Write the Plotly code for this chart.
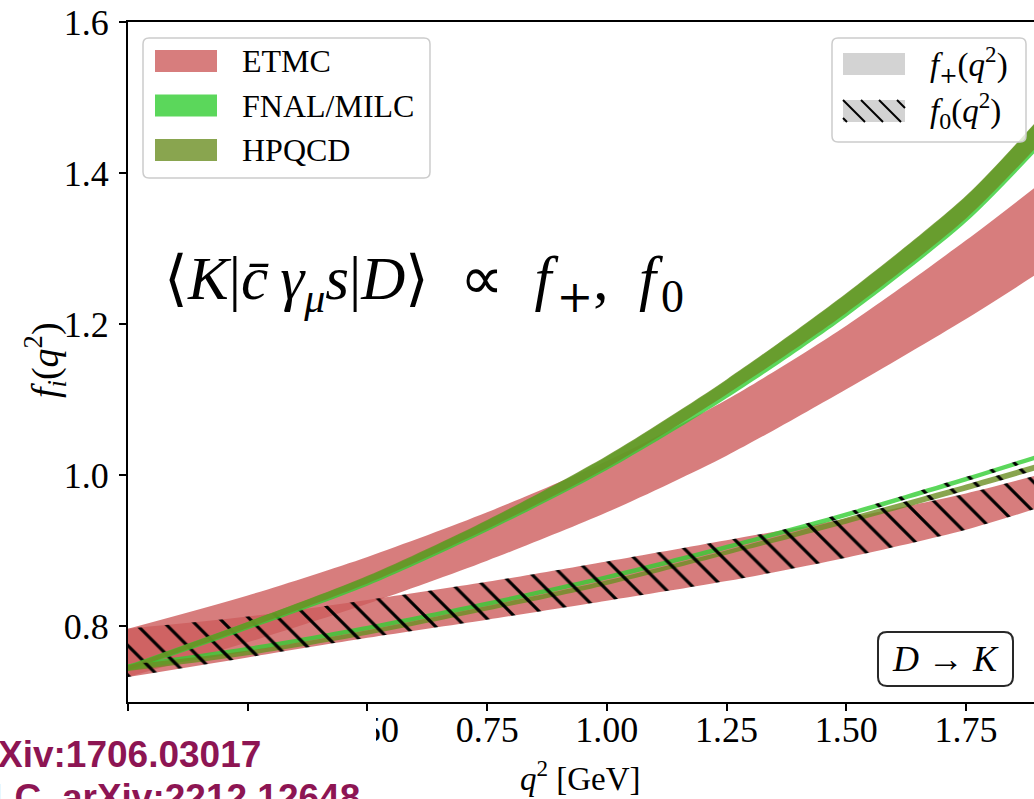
import plotly.graph_objects as go

# ---- data: form factors vs q^2 (band centres and half-widths) ----
q2 = [0.0, 0.25, 0.5, 0.75, 1.0, 1.25, 1.5, 1.75, 1.892]

etmc_fp = [0.765, 0.810, 0.861, 0.919, 0.985, 1.063, 1.156, 1.259, 1.322]
etmc_fp_err = [0.032, 0.031, 0.031, 0.032, 0.034, 0.037, 0.042, 0.052, 0.058]
etmc_f0 = [0.765, 0.786, 0.810, 0.834, 0.860, 0.887, 0.917, 0.952, 0.977]
etmc_f0_err = [0.032, 0.027, 0.025, 0.025, 0.026, 0.027, 0.026, 0.024, 0.022]

fnal_fp = [0.745, 0.801, 0.860, 0.933, 1.016, 1.114, 1.225, 1.352, 1.445]
fnal_fp_err = [0.004, 0.005, 0.006, 0.007, 0.009, 0.012, 0.015, 0.017, 0.019]
fnal_f0 = [0.746, 0.770, 0.798, 0.830, 0.865, 0.905, 0.948, 0.995, 1.023]
fnal_f0_err = [0.004, 0.003, 0.003, 0.003, 0.003, 0.003, 0.003, 0.003, 0.003]

hpqcd_fp = [0.745, 0.802, 0.862, 0.935, 1.018, 1.117, 1.228, 1.355, 1.448]
hpqcd_fp_err = [0.003, 0.004, 0.005, 0.006, 0.008, 0.010, 0.013, 0.015, 0.017]
hpqcd_f0 = [0.745, 0.765, 0.792, 0.824, 0.858, 0.898, 0.940, 0.984, 1.010]
hpqcd_f0_err = [0.004, 0.003, 0.003, 0.003, 0.003, 0.003, 0.004, 0.004, 0.004]

x_ticks = [0.0, 0.25, 0.5, 0.75, 1.0, 1.25, 1.5, 1.75]
y_ticks = [0.8, 1.0, 1.2, 1.4, 1.6]
x_range = [0.0, 1.892]
y_range = [0.7, 1.6]

collabs = ["ETMC", "FNAL/MILC", "HPQCD"]
colors = {
    "ETMC": "rgba(205,92,92,0.8)",
    "FNAL/MILC": "rgba(50,205,50,0.8)",
    "HPQCD": "rgba(107,142,35,0.8)",
}

SERIF = "Liberation Serif"
W, H = 1034, 799
ML, MR, MT, MB = 128, 0, 22, 97
PW, PH = W - ML - MR, H - MT - MB


def fx(px):
    return (px - ML) / PW


def fy(py):
    return (H - MB - py) / PH


fig = go.Figure()


def add_band(centre, err, color, hatched):
    lo = [c - e for c, e in zip(centre, err)]
    hi = [c + e for c, e in zip(centre, err)]
    fig.add_trace(go.Scatter(x=q2, y=lo, mode="lines",
                             line=dict(width=0, shape="spline", smoothing=0.8),
                             hoverinfo="skip", showlegend=False))
    kw = dict(fill="tonexty", fillcolor=color)
    if hatched:
        kw["fillpattern"] = dict(shape="\\", bgcolor=color, fgcolor="black",
                                 fgopacity=1.0, size=21, solidity=0.15)
    fig.add_trace(go.Scatter(x=q2, y=hi, mode="lines",
                             line=dict(width=0, shape="spline", smoothing=0.8),
                             hoverinfo="skip", showlegend=False, **kw))


bands = {
    "ETMC": (etmc_fp, etmc_fp_err, etmc_f0, etmc_f0_err),
    "FNAL/MILC": (fnal_fp, fnal_fp_err, fnal_f0, fnal_f0_err),
    "HPQCD": (hpqcd_fp, hpqcd_fp_err, hpqcd_f0, hpqcd_f0_err),
}
for name in collabs:
    fp, fpe, f0, f0e = bands[name]
    add_band(fp, fpe, colors[name], False)
    add_band(f0, f0e, colors[name], True)

axis_font = dict(family=SERIF, size=36, color="black")
fig.update_xaxes(range=x_range, tickvals=x_ticks, tickformat=".2f",
                 showline=True, linecolor="black", linewidth=2, mirror=True,
                 ticks="outside", ticklen=7, tickwidth=1.5, tickcolor="black",
                 ticklabelstandoff=-12, showgrid=False, zeroline=False,
                 tickfont=axis_font)
fig.update_yaxes(range=y_range, tickvals=y_ticks, tickformat=".1f",
                 showline=True, linecolor="black", linewidth=2, mirror=False,
                 ticks="outside", ticklen=7, tickwidth=1.5, tickcolor="black",
                 ticklabelstandoff=3, showgrid=False, zeroline=False,
                 tickfont=axis_font)


def rounded_box(x0, y0, x1, y1, r):
    """SVG path (paper coords) of a rounded rectangle given in pixels."""
    pts = [
        ("M", [(x0 + r, y0)]), ("L", [(x1 - r, y0)]), ("Q", [(x1, y0), (x1, y0 + r)]),
        ("L", [(x1, y1 - r)]), ("Q", [(x1, y1), (x1 - r, y1)]),
        ("L", [(x0 + r, y1)]), ("Q", [(x0, y1), (x0, y1 - r)]),
        ("L", [(x0, y0 + r)]), ("Q", [(x0, y0), (x0 + r, y0)]),
    ]
    out = []
    for cmd, ps in pts:
        out.append(cmd + " ".join(f"{fx(a):.5f},{fy(b):.5f}" for a, b in ps))
    return " ".join(out) + " Z"


shapes = []
annotations = []


def box(x0, y0, x1, y1, r, line, lw, fill):
    shapes.append(dict(type="path", path=rounded_box(x0, y0, x1, y1, r),
                       xref="paper", yref="paper", layer="above",
                       line=dict(color=line, width=lw), fillcolor=fill))


def rect(x0, y0, x1, y1, fill):
    shapes.append(dict(type="rect", xref="paper", yref="paper", layer="above",
                       x0=fx(x0), x1=fx(x1), y0=fy(y1), y1=fy(y0),
                       line=dict(width=0), fillcolor=fill))


def text(px, py, s, size, xanchor="left", yanchor="middle", color="black",
         family=SERIF, angle=0, weight="normal"):
    annotations.append(dict(x=fx(px), y=fy(py), xref="paper", yref="paper",
                            text=s, showarrow=False, xanchor=xanchor,
                            yanchor=yanchor, textangle=angle,
                            font=dict(family=family, size=size, color=color,
                                      weight=weight)))


def sub(s, px, family=None):
    fam = f";font-family:{family}" if family else ""
    return f'<sub><span style="font-size:{px}px{fam}">{s}</span></sub>'


PLUS_FONT = "DejaVu Serif"

# collaboration legend
box(143, 38, 430, 178, 6, "rgb(204,204,204)", 1.5, "rgba(255,255,255,0.8)")
for i, name in enumerate(collabs):
    yc = 61 + 44.5 * i
    rect(155, yc - 11, 217, yc + 11, colors[name])
    text(240, yc, name, 32)

# form-factor legend
box(832, 38, 1026, 142, 6, "rgb(204,204,204)", 1.5, "rgba(255,255,255,0.8)")
rect(843, 53, 905, 75, "rgb(211,211,211)")
text(928, 64, "<i>f</i>" + sub("+", 22, PLUS_FONT) + "(<i>q</i><sup>2</sup>)", 33)
rect(843, 100, 905, 122, "rgb(211,211,211)")
for a in range(825, 905, 18):
    xa, ya = a, 100
    xb, yb = a + 22, 122
    if xa < 843:
        ya += 843 - xa
        xa = 843
    if xb > 905:
        yb -= xb - 905
        xb = 905
    if xb > xa:
        shapes.append(dict(type="line", xref="paper", yref="paper", layer="above",
                           x0=fx(xa), y0=fy(ya), x1=fx(xb), y1=fy(yb),
                           line=dict(color="black", width=2)))
text(928, 111, "<i>f</i>" + sub("0", 24) + "(<i>q</i><sup>2</sup>)", 33)

# decay label
box(878, 632, 1013, 686, 9, "rgb(40,40,40)", 2, "white")
text(945, 659, "<i>D</i> → <i>K</i>", 36, xanchor="center")

# matrix element
text(162, 283,
     "⟨<i>K</i>|<i>c̄</i>\u2009<i>γ</i>" + sub("<i>μ</i>", 42) + "<i>s</i>|<i>D</i>⟩"
     "\u2002∝\u2002<i>f</i>\u200a" + sub("+", 44, PLUS_FONT) + ",\u2002<i>f</i>\u200a"
     + sub("0", 46), 61)

# axis titles
text(580, 776, "<i>q</i><sup>2</sup> [GeV]", 33, xanchor="center")
text(45, 360, "<i>f</i><sub><i>i</i></sub>(<i>q</i><sup>2</sup>)", 38,
     xanchor="center", angle=-90)

# reference panel in the lower-left corner
rect(0, 713, 376, 799, "white")
text(263, 754, "arXiv:1706.03017", 37, xanchor="right", color="#8D1553",
     family="Liberation Sans", weight="bold")
text(362, 797, "FNAL/MILC, arXiv:2212.12648", 37, xanchor="right",
     color="#8D1553", family="Liberation Sans", weight="bold")

fig.update_layout(width=W, height=H,
                  margin=dict(l=ML, r=MR, t=MT, b=MB, pad=0),
                  paper_bgcolor="white", plot_bgcolor="white",
                  showlegend=False, shapes=shapes, annotations=annotations)

fig.write_html("out.html")
